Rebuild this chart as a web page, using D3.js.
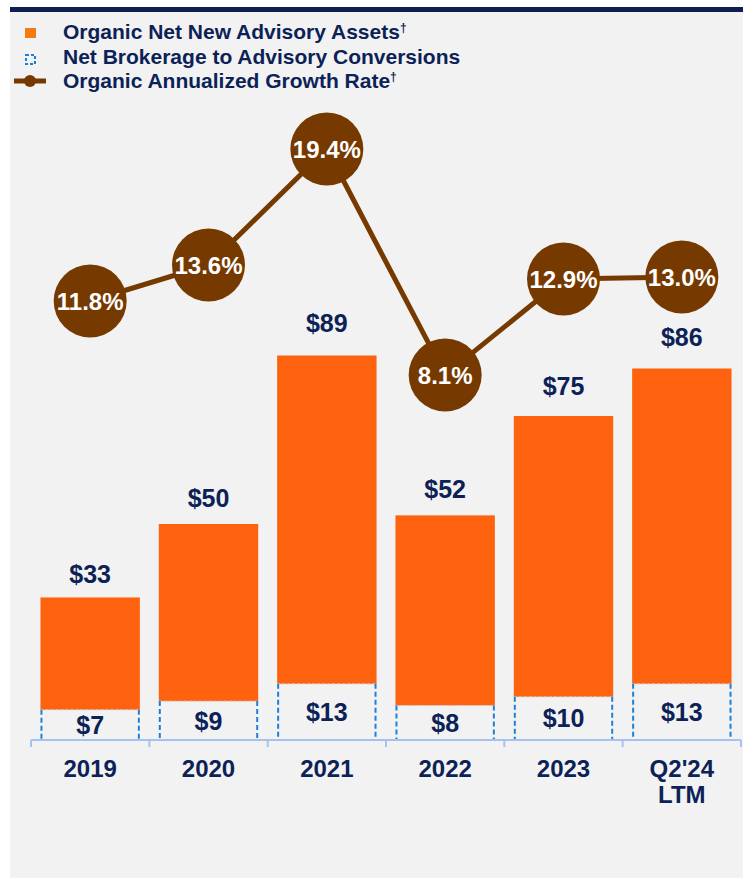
<!DOCTYPE html>
<html lang="en">
    <head>
        <meta charset="utf-8">
        <title>Organic Net New Advisory Assets</title>
        <script type="text/javascript" src="https://d3js.org/d3.v7.min.js"></script>
        <style type="text/css">
            body {
                margin: 0;
                background-color: #ffffff;
            }
            svg {
                display: block;
                font-family: "Liberation Sans", Arial, Helvetica, sans-serif;
                font-weight: bold;
            }
        </style>
    </head>
    <body>
        <svg width="743" height="879"></svg>
        <script type="text/javascript">

            // data ($ billions)
            const categories = ["2019", "2020", "2021", "2022", "2023", "Q2'24 LTM"];
            const organicAssets = [33, 50, 89, 52, 75, 86];
            const conversions = [7, 9, 13, 8, 10, 13];
            const growthRate = [11.8, 13.6, 19.4, 8.1, 12.9, 13.0];

            const navy = "#0c2257";
            const orange = "#ff620f";
            const brown = "#763a00";
            const dashBlue = "#1d80d6";

            const svg = d3.select("svg");

            // panel background + top rule
            svg.append("rect")
                .attr("x", 10).attr("y", 12)
                .attr("width", 733).attr("height", 866)
                .attr("fill", "#f2f2f2");
            svg.append("rect")
                .attr("x", 10).attr("y", 7)
                .attr("width", 733).attr("height", 5)
                .attr("fill", "#0d1f4e");

            // scales
            const x = d3.scaleBand()
                .domain(categories)
                .range([31, 741]);
            const bw = x.bandwidth();
            const barW = bw * 0.84;

            const y = d3.scaleLinear()
                .domain([0, 100])
                .range([740, 308]);

            // total labels sit on a slightly steeper scale than the bars
            const yLabel = d3.scaleLinear()
                .domain([0, 100])
                .range([731, 283]);

            const yRate = d3.scaleLinear()
                .domain([0, 20])
                .range([537, 137]);

            const rows = categories.map((c, i) => ({
                cat: c,
                total: organicAssets[i],
                conv: conversions[i],
                rate: growthRate[i]
            }));

            // orange part of the bar (above the conversions)
            svg.selectAll("rect.organic")
                .data(rows)
                .enter()
                .append("rect")
                .attr("class", "organic")
                .attr("x", d => x(d.cat) + (bw - barW) / 2)
                .attr("width", barW)
                .attr("y", d => y(d.total))
                .attr("height", d => y(d.conv) - y(d.total))
                .attr("fill", orange);

            // conversions: dashed outline, no fill
            const conv = svg.selectAll("g.conv")
                .data(rows)
                .enter()
                .append("g")
                .attr("class", "conv");

            conv.append("line")
                .attr("x1", d => x(d.cat) + (bw - barW) / 2)
                .attr("x2", d => x(d.cat) + (bw + barW) / 2)
                .attr("y1", d => y(d.conv))
                .attr("y2", d => y(d.conv))
                .attr("stroke", "#c9c9c9")
                .attr("stroke-width", 1)
                .attr("stroke-dasharray", "3,2");

            [-1, 1].forEach(side => {
                conv.append("line")
                    .attr("x1", d => x(d.cat) + bw / 2 + side * (barW / 2 - 1))
                    .attr("x2", d => x(d.cat) + bw / 2 + side * (barW / 2 - 1))
                    .attr("y1", d => y(d.conv))
                    .attr("y2", y(0))
                    .attr("stroke", dashBlue)
                    .attr("stroke-width", 2)
                    .attr("stroke-dasharray", "5,3");
            });

            conv.append("text")
                .attr("x", d => x(d.cat) + bw / 2)
                .attr("y", d => (y(d.conv) + y(0)) / 2 + 9)
                .attr("text-anchor", "middle")
                .attr("font-size", 25)
                .attr("fill", navy)
                .text(d => "$" + d.conv);

            // totals above bars
            svg.selectAll("text.total")
                .data(rows)
                .enter()
                .append("text")
                .attr("class", "total")
                .attr("x", d => x(d.cat) + bw / 2)
                .attr("y", d => yLabel(d.total))
                .attr("text-anchor", "middle")
                .attr("font-size", 25)
                .attr("fill", navy)
                .text(d => "$" + d.total);

            // category axis
            const axisColor = "#a8c2ef";
            svg.append("line")
                .attr("x1", x.range()[0]).attr("x2", x.range()[1])
                .attr("y1", y(0)).attr("y2", y(0))
                .attr("stroke", axisColor)
                .attr("stroke-width", 2);
            const bounds = categories.map(c => x(c)).concat([x.range()[1]]);
            svg.selectAll("line.tick")
                .data(bounds)
                .enter()
                .append("line")
                .attr("class", "tick")
                .attr("x1", d => d).attr("x2", d => d)
                .attr("y1", y(0)).attr("y2", y(0) + 7)
                .attr("stroke", axisColor)
                .attr("stroke-width", 2);

            const catText = svg.selectAll("text.cat")
                .data(categories)
                .enter()
                .append("text")
                .attr("class", "cat")
                .attr("text-anchor", "middle")
                .attr("font-size", 24)
                .attr("fill", navy)
                .attr("y", 777);
            catText.selectAll("tspan")
                .data(d => d.split(" ").map(t => ({ t: t, c: d })))
                .enter()
                .append("tspan")
                .attr("x", d => x(d.c) + bw / 2)
                .attr("dy", (d, i) => i === 0 ? 0 : 26)
                .text(d => d.t);

            // growth rate line + circles
            const line = d3.line()
                .x(d => x(d.cat) + bw / 2)
                .y(d => yRate(d.rate));

            svg.append("path")
                .datum(rows)
                .attr("d", line)
                .attr("fill", "none")
                .attr("stroke", brown)
                .attr("stroke-width", 5);

            const dots = svg.selectAll("g.dot")
                .data(rows)
                .enter()
                .append("g")
                .attr("class", "dot")
                .attr("transform", d => "translate(" + (x(d.cat) + bw / 2) + "," + yRate(d.rate) + ")");

            dots.append("circle")
                .attr("r", 36.5)
                .attr("fill", brown);

            dots.append("text")
                .attr("text-anchor", "middle")
                .attr("y", 8.5)
                .attr("font-size", 24)
                .attr("fill", "#ffffff")
                .text(d => d.rate.toFixed(1) + "%");

            // legend
            const legend = [
                { label: "Organic Net New Advisory Assets", dagger: true, y: 39 },
                { label: "Net Brokerage to Advisory Conversions", dagger: false, y: 64 },
                { label: "Organic Annualized Growth Rate", dagger: true, y: 88 }
            ];

            svg.append("rect")
                .attr("x", 25).attr("y", 28)
                .attr("width", 11).attr("height", 10)
                .attr("fill", "#f57a12");
            svg.append("rect")
                .attr("x", 26).attr("y", 55)
                .attr("width", 9).attr("height", 9)
                .attr("fill", "none")
                .attr("stroke", dashBlue)
                .attr("stroke-width", 2)
                .attr("stroke-dasharray", "3,2");
            svg.append("line")
                .attr("x1", 14).attr("x2", 46)
                .attr("y1", 81).attr("y2", 81)
                .attr("stroke", brown)
                .attr("stroke-width", 5);
            svg.append("circle")
                .attr("cx", 30).attr("cy", 81)
                .attr("r", 6)
                .attr("fill", brown);

            const lt = svg.selectAll("text.legend")
                .data(legend)
                .enter()
                .append("text")
                .attr("class", "legend")
                .attr("x", 63)
                .attr("y", d => d.y)
                .attr("font-size", 21)
                .attr("fill", navy);
            lt.append("tspan").text(d => d.label);
            lt.filter(d => d.dagger)
                .append("tspan")
                .attr("font-size", 12)
                .attr("dy", -7)
                .text("\u2020");

        </script>
    </body>
</html>
